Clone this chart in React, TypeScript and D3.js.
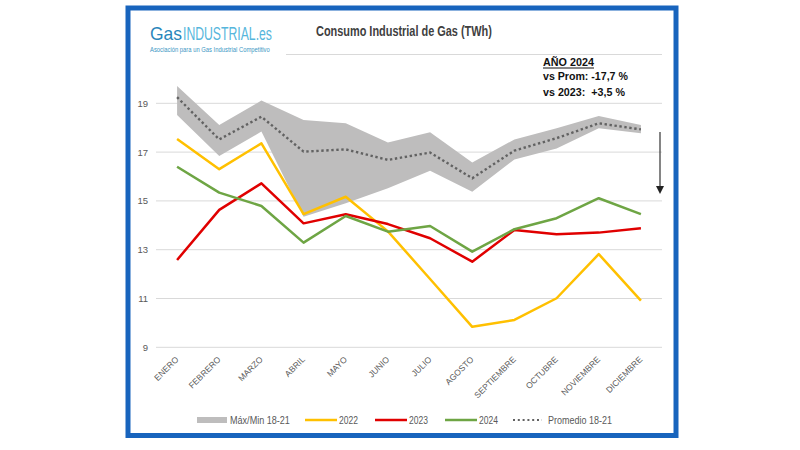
import React from 'react';
import * as d3 from 'd3';

const months = ['ENERO', 'FEBRERO', 'MARZO', 'ABRIL', 'MAYO', 'JUNIO', 'JULIO', 'AGOSTO', 'SEPTIEMBRE', 'OCTUBRE', 'NOVIEMBRE', 'DICIEMBRE'];
const maxVals = [19.71, 18.11, 19.11, 18.32, 18.18, 17.39, 17.81, 16.57, 17.52, 17.98, 18.48, 18.11];
const minVals = [18.52, 16.84, 17.84, 14.35, 14.9, 15.52, 16.24, 15.38, 16.7, 17.15, 17.98, 17.77];
const avgVals = [19.25, 17.52, 18.45, 17.02, 17.11, 16.68, 16.98, 15.93, 17.06, 17.57, 18.18, 17.93];
const v2022 = [17.54, 16.3, 17.36, 14.46, 15.17, 13.75, 11.8, 9.84, 10.12, 11.01, 12.82, 10.91];
const v2023 = [12.58, 14.63, 15.72, 14.08, 14.45, 14.05, 13.47, 12.51, 13.81, 13.63, 13.7, 13.88];
const v2024 = [16.4, 15.34, 14.79, 13.29, 14.38, 13.74, 13.97, 12.92, 13.84, 14.29, 15.11, 14.46];
const yTickLabels = [9, 11, 13, 15, 17, 19];
const gridValues = [9, 11, 13, 15, 17, 19, 21];

const title = 'Consumo Industrial de Gas (TWh)';
const noteTitle = 'AÑO 2024';
const noteLine1 = 'vs Prom: -17,7 %';
const noteLine2 = 'vs 2023:  +3,5 %';

const FONT = "'Liberation Sans', Arial, sans-serif";
const GRAY = '#595959';
const C2022 = '#ffc000';
const C2023 = '#e00000';
const C2024 = '#6ea544';
const CBAND = '#bebdbd';
const CAVG = '#626262';

let ctx: CanvasRenderingContext2D | null = null;
function measure(text: string, size: number, weight: string | number = 'normal'): number {
  if (!ctx) {
    const c = document.createElement('canvas');
    ctx = c.getContext('2d');
  }
  if (!ctx) return text.length * size * 0.55;
  ctx.font = `${weight} ${size}px 'Liberation Sans', Arial, sans-serif`;
  return ctx.measureText(text).width;
}

function FitText(props: {
  x: number;
  y: number;
  width: number;
  size: number;
  weight?: string | number;
  fill: string;
  children: string;
}) {
  const { x, y, width, size, weight = 'normal', fill, children } = props;
  const natural = measure(children, size, weight);
  const s = natural > 0 ? width / natural : 1;
  return (
    <text
      transform={`translate(${x},${y}) scale(${s},1)`}
      fontSize={size}
      fontWeight={weight}
      fill={fill}
      style={{ whiteSpace: 'pre' }}
    >
      {children}
    </text>
  );
}

export default function App() {
  const x = d3.scaleBand<string>().domain(months).range([156, 662]).padding(0);
  const cx = (i: number) => (x(months[i]) as number) + x.bandwidth() / 2;
  const y = d3.scaleLinear().domain([9, 21]).range([347.3, 54.5]);

  const area = d3
    .area<number>()
    .x((_, i) => cx(i))
    .y0((_, i) => y(minVals[i]))
    .y1((d) => y(d));
  const line = d3
    .line<number>()
    .x((_, i) => cx(i))
    .y((d) => y(d));

  const legendY = 420;

  return (
    <svg
      width={800}
      height={450}
      style={{ position: 'absolute', left: 0, top: 0, display: 'block', background: '#fff' }}
      fontFamily={FONT}
    >
      <rect x={0} y={0} width={800} height={450} fill="#fff" />
      {/* gridlines */}
      {gridValues.map((v) => (
        <line key={v} x1={156} x2={662} y1={y(v)} y2={y(v)} stroke="#d9d9d9" strokeWidth={1} />
      ))}
      {yTickLabels.map((v) => (
        <text key={v} x={148} y={y(v) + 3.5} textAnchor="end" fontSize={9.5} fill={GRAY}>
          {v}
        </text>
      ))}
      {/* band */}
      <path d={area(maxVals) || ''} fill={CBAND} />
      {/* series */}
      <path d={line(v2022) || ''} fill="none" stroke={C2022} strokeWidth={2.5} strokeLinejoin="round" />
      <path d={line(v2023) || ''} fill="none" stroke={C2023} strokeWidth={2.5} strokeLinejoin="round" />
      <path d={line(v2024) || ''} fill="none" stroke={C2024} strokeWidth={2.5} strokeLinejoin="round" />
      <path d={line(avgVals) || ''} fill="none" stroke={CAVG} strokeWidth={2.4} strokeDasharray="2.4 2.6" />

      {/* x labels */}
      {months.map((m, i) => (
        <text
          key={m}
          transform={`translate(${cx(i) + 2},${360}) rotate(-45)`}
          textAnchor="end"
          fontSize={8.5}
          fill={GRAY}
        >
          {m}
        </text>
      ))}

      {/* arrow */}
      <line x1={660} x2={660} y1={132} y2={188} stroke="#333" strokeWidth={1.2} />
      <path d="M656,186 L664,186 L660,194 Z" fill="#222" />

      {/* logo */}
      <rect x={136} y={14} width={150} height={48} fill="#fff" />
      <FitText x={150} y={40} width={32} size={19} fill="#2a86bb">Gas</FitText>
      <FitText x={183} y={40} width={89} size={19} fill="#56b6dc">INDUSTRIAL.es</FitText>
      <FitText x={150} y={52} width={120} size={6.5} fill="#3d97c4">
        Asociación para un Gas Industrial Competitivo
      </FitText>

      {/* title */}
      <FitText x={316} y={36} width={176} size={15} weight="bold" fill="#404040">
        {title}
      </FitText>

      {/* annotation */}
      <FitText x={543} y={66} width={51} size={11} weight="bold" fill="#111">
        {noteTitle}
      </FitText>
      <line x1={543} x2={594} y1={68} y2={68} stroke="#111" strokeWidth={1} />
      <FitText x={543} y={80} width={85} size={11} weight="bold" fill="#111">
        {noteLine1}
      </FitText>
      <FitText x={543} y={96} width={82} size={11} weight="bold" fill="#111">
        {noteLine2}
      </FitText>

      {/* legend */}
      <rect x={197} y={417} width={30} height={6} fill={CBAND} />
      <FitText x={230} y={legendY + 3.5} width={60} size={10} fill={GRAY}>
        Máx/Min 18-21
      </FitText>
      <line x1={305} x2={337} y1={legendY} y2={legendY} stroke={C2022} strokeWidth={2.5} />
      <FitText x={339} y={legendY + 3.5} width={19} size={10} fill={GRAY}>
        2022
      </FitText>
      <line x1={375} x2={407} y1={legendY} y2={legendY} stroke={C2023} strokeWidth={2.5} />
      <FitText x={409} y={legendY + 3.5} width={19} size={10} fill={GRAY}>
        2023
      </FitText>
      <line x1={445} x2={477} y1={legendY} y2={legendY} stroke={C2024} strokeWidth={2.5} />
      <FitText x={479} y={legendY + 3.5} width={19} size={10} fill={GRAY}>
        2024
      </FitText>
      <line x1={513} x2={542} y1={legendY} y2={legendY} stroke={CAVG} strokeWidth={2} strokeDasharray="2 2.8" />
      <FitText x={548} y={legendY + 3.5} width={64} size={10} fill={GRAY}>
        Promedio 18-21
      </FitText>

      {/* frame */}
      <rect x={128} y={8} width={548} height={427.5} fill="none" stroke="#1864bd" strokeWidth={5} />
    </svg>
  );
}
